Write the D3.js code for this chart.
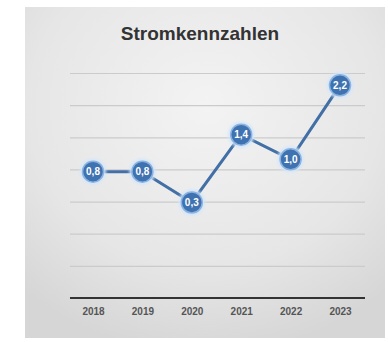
<!DOCTYPE html>
<html lang="de">
<head>
  <meta charset="UTF-8">
  <title>Stromkennzahlen</title>
  <style>
    body { margin: 0; background: #fff; }
  </style>
</head>
<body>
  <svg id="svg" width="388" height="342"></svg>
  <script src="https://d3js.org/d3.v7.min.js"></script>
  <script>
    const years = ['2018', '2019', '2020', '2021', '2022', '2023']
    const values = [0.8, 0.8, 0.3, 1.4, 1.0, 2.2]
    const gridCount = 7

    const svg = d3.select('#svg')
    const defs = svg.append('defs')

    // card background, lighter in the middle
    const grad = defs.append('radialGradient')
      .attr('id', 'bg').attr('cx', '50%').attr('cy', '30%').attr('r', '75%')
    grad.append('stop').attr('offset', '0%').attr('stop-color', '#f3f3f3')
    grad.append('stop').attr('offset', '65%').attr('stop-color', '#e6e6e6')
    grad.append('stop').attr('offset', '100%').attr('stop-color', '#d6d6d6')

    const glow = defs.append('filter').attr('id', 'glow')
      .attr('x', '-50%').attr('y', '-50%').attr('width', '200%').attr('height', '200%')
    glow.append('feGaussianBlur').attr('stdDeviation', 1.6)

    svg.append('rect')
      .attr('x', 25).attr('y', 7).attr('width', 360).attr('height', 331)
      .attr('fill', 'url(#bg)')

    svg.append('text')
      .attr('x', 200).attr('y', 40)
      .attr('text-anchor', 'middle')
      .attr('font-family', 'Liberation Sans, Arial, sans-serif')
      .attr('font-weight', 'bold')
      .attr('font-size', 19)
      .attr('fill', '#333')
      .text('Stromkennzahlen')

    const x = d3.scalePoint().domain(years).range([93, 340])
    const y = d3.scaleLinear().domain([-1.25, 2.4]).range([298, 73])
    const grid = d3.scaleLinear().domain([0, gridCount]).range([298, 73])

    // gridlines
    svg.append('g')
      .attr('transform', 'translate(70,0)')
      .call(d3.axisLeft(grid).tickValues(d3.range(1, gridCount + 1)).tickSize(-295).tickFormat(''))
      .call(g => g.select('.domain').remove())
      .call(g => g.selectAll('line').attr('stroke', '#cbcbcb').attr('stroke-width', 1.2))

    // x axis
    svg.append('g')
      .attr('transform', 'translate(0,298)')
      .call(d3.axisBottom(x).tickSize(0).tickPadding(10))
      .call(g => g.select('.domain').remove())
      .call(g => g.selectAll('text')
        .attr('font-family', 'Liberation Sans, Arial, sans-serif')
        .attr('font-size', 10)
        .attr('font-weight', 'bold')
        .attr('fill', '#555'))
    svg.append('line')
      .attr('x1', 70).attr('x2', 365).attr('y1', 298).attr('y2', 298)
      .attr('stroke', '#333').attr('stroke-width', 2)

    const line = d3.line().x((d, i) => x(years[i])).y(d => y(d))
    svg.append('path')
      .datum(values)
      .attr('d', line)
      .attr('fill', 'none')
      .attr('stroke', '#416fa6')
      .attr('stroke-width', 3)

    const pts = svg.append('g').selectAll('g')
      .data(values)
      .join('g')
      .attr('transform', (d, i) => `translate(${x(years[i])},${y(d)})`)

    pts.append('circle').attr('r', 13).attr('fill', '#d3e6fa').attr('filter', 'url(#glow)')
    pts.append('circle').attr('r', 10.5).attr('fill', '#3f72b0')
      .attr('stroke', '#8cb3e0').attr('stroke-width', 1.5)
    pts.append('text')
      .attr('text-anchor', 'middle')
      .attr('dy', '0.35em')
      .attr('font-family', 'Liberation Sans, Arial, sans-serif')
      .attr('font-weight', 'bold')
      .attr('font-size', 10)
      .attr('fill', '#fff')
      .text(d => d3.format('.1f')(d).replace('.', ','))
  </script>
</body>
</html>
